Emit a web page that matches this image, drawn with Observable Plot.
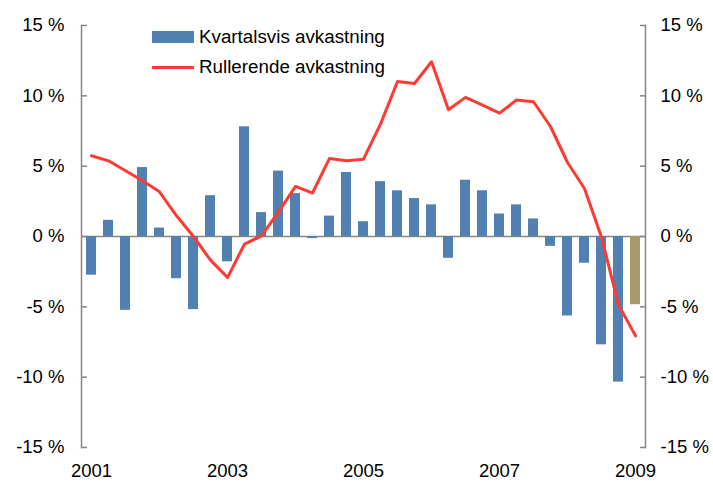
<!DOCTYPE html>
<html>
<head>
<meta charset="utf-8">
<script src="https://cdn.jsdelivr.net/npm/d3@7"></script>
<script src="https://cdn.jsdelivr.net/npm/@observablehq/plot@0.6"></script>
<style>
  html, body { margin: 0; padding: 0; background: #fff; }
  #wrap { position: relative; width: 713px; height: 486px; font-family: "Liberation Sans", Arial, sans-serif; }
  .legend { position: absolute; left: 152px; font-size: 18.8px; color: #000; display: flex; align-items: center; }
  .sw { display: inline-block; width: 42px; margin-right: 5px; }
</style>
</head>
<body>
<div id="wrap">
  <div class="legend" style="top:26px"><span class="sw" style="height:12px;background:#5181b0"></span>Kvartalsvis avkastning</div>
  <div class="legend" style="top:56px"><span class="sw" style="height:3px;background:#ff3a33"></span>Rullerende avkastning</div>
</div>
<script>
// Quarters 2001 Q1 .. 2009 Q1
const quarters = ["2001K1","2001K2","2001K3","2001K4","2002K1","2002K2","2002K3","2002K4",
  "2003K1","2003K2","2003K3","2003K4","2004K1","2004K2","2004K3","2004K4",
  "2005K1","2005K2","2005K3","2005K4","2006K1","2006K2","2006K3","2006K4",
  "2007K1","2007K2","2007K3","2007K4","2008K1","2008K2","2008K3","2008K4","2009K1"];
// Quarterly return (%)
const quarterly = [-2.75, 1.15, -5.25, 4.9, 0.6, -3.0, -5.2, 2.9,
  -1.8, 7.8, 1.7, 4.65, 3.05, -0.15, 1.45, 4.55,
  1.05, 3.9, 3.25, 2.7, 2.25, -1.55, 4.0, 3.25,
  1.6, 2.25, 1.25, -0.7, -5.65, -1.9, -7.7, -10.35, -4.85];
// Rolling (12-month) return (%)
const rolling = [5.74, 5.38, 4.67, 3.96, 3.18, 1.47, 0.0, -1.68,
  -2.92, -0.54, 0.05, 1.75, 3.56, 3.09, 5.55, 5.38,
  5.5, 7.99, 11.02, 10.88, 12.42, 9.01, 9.89, 9.34,
  8.77, 9.7, 9.58, 7.82, 5.26, 3.41, -0.05, -4.86, -7.06];
// Last quarter highlighted
const highlight = [32];
const yTicks = [-15, -10, -5, 0, 5, 10, 15];
const xTickLabels = {"2001K1": "2001", "2003K1": "2003", "2005K1": "2005", "2007K1": "2007", "2009K1": "2009"};

const data = quarters.map((q, i) => ({q, bar: quarterly[i], roll: rolling[i], hl: highlight.includes(i)}));

const gray = "#868686";
const font = "Liberation Sans, Arial, sans-serif";
const fs = 18.5;

const chart = Plot.plot({
  width: 713,
  height: 486,
  marginLeft: 81,
  marginRight: 68,
  marginTop: 25,
  marginBottom: 39,
  style: {fontFamily: font, fontSize: fs + "px", color: "#000", background: "transparent"},
  x: {type: "band", domain: quarters, paddingInner: 0.4, paddingOuter: 0.2, axis: null, label: null},
  y: {domain: [-15, 15], axis: null, label: null},
  marks: [
    Plot.ruleY([0], {stroke: gray, strokeWidth: 1.5}),
    Plot.barY(data, {x: "q", y: "bar", fill: d => d.hl ? "#a89a6a" : "#5181b0"}),
    Plot.line(data, {x: "q", y: "roll", stroke: "#ff3a33", strokeWidth: 3, curve: "linear"}),
    Plot.frame({anchor: "left", stroke: gray, strokeWidth: 1.5}),
    Plot.frame({anchor: "right", stroke: gray, strokeWidth: 1.5}),
    Plot.axisY({anchor: "left", ticks: yTicks, tickSize: -6, text: null, label: null, stroke: gray, strokeWidth: 1.5}),
    Plot.axisY({anchor: "right", ticks: yTicks, tickSize: -6, text: null, label: null, stroke: gray, strokeWidth: 1.5}),
    Plot.axisY({anchor: "left", ticks: yTicks, tickSize: 0, tickPadding: 17, label: null, tickFormat: d => `${d} %`, fontSize: fs, fill: "#000"}),
    Plot.axisY({anchor: "right", ticks: yTicks, tickSize: 0, tickPadding: 15, label: null, tickFormat: d => `${d} %`, fontSize: fs, fill: "#000"}),
    Plot.axisX({ticks: Object.keys(xTickLabels), tickFormat: d => xTickLabels[d], tickSize: 0, tickPadding: 16, label: null, fontSize: fs, fill: "#000"})
  ]
});
document.getElementById("wrap").appendChild(chart);
</script>
</body>
</html>
